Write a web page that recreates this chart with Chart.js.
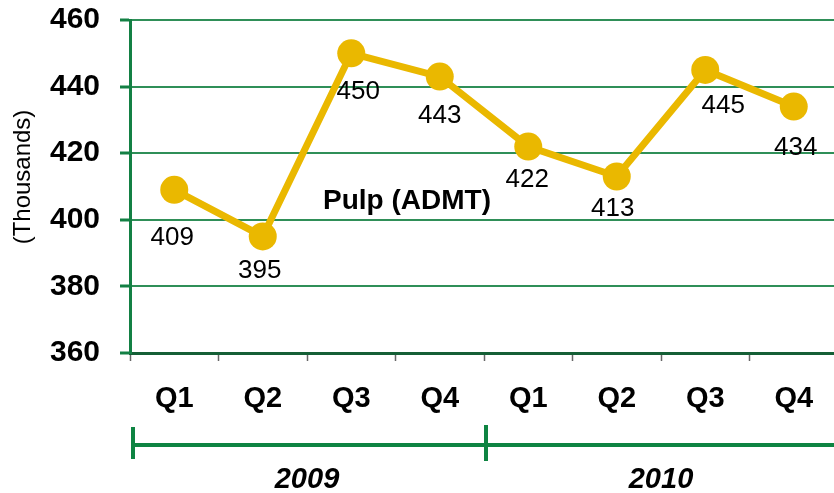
<!DOCTYPE html>
<html>
<head>
<meta charset="utf-8">
<script src="https://cdn.jsdelivr.net/npm/chart.js@4/dist/chart.umd.min.js"></script>
<style>
html,body{margin:0;padding:0;background:#fff;overflow:hidden;}
#clip{width:834px;height:493px;position:relative;overflow:hidden;}
#wrap{width:900px;height:493px;position:absolute;left:0;top:0;}
#c{position:absolute;left:0;top:0;width:852px;height:493px;}
</style>
</head>
<body>
<div id="clip"><div id="wrap"><canvas id="c" width="852" height="493"></canvas></div></div>
<script>
const quarters = ['Q1','Q2','Q3','Q4','Q1','Q2','Q3','Q4'];
const pulpValues = [409,395,450,443,422,413,445,434];
const years = ['2009','2010'];
const seriesName = 'Pulp (ADMT)';
const yAxisTitle = '(Thousands)';
const yMin = 360, yMax = 460, yStep = 20;

const FONT = "'Liberation Sans', Arial, sans-serif";
const GOLD = '#EAB800';
const GREEN = '#138044';
const VISIBLE_WIDTH = 834;

const extras = {
  id: 'extras',
  afterDatasetsDraw(chart, args, opts) {
    const ctx = chart.ctx;
    const meta = chart.getDatasetMeta(0);
    const xs = chart.scales.x;
    const ca = chart.chartArea;
    ctx.save();
    // data labels
    ctx.fillStyle = '#000';
    ctx.font = '26px ' + FONT;
    ctx.textAlign = 'center';
    ctx.textBaseline = 'middle';
    meta.data.forEach((pt, i) => {
      const off = opts.labelOffsets[i] || [0, 37];
      ctx.fillText(String(pulpValues[i]), pt.x + off[0], pt.y + off[1]);
    });
    // series name
    ctx.font = 'bold 28px ' + FONT;
    ctx.fillText(seriesName, ca.left + 277, ca.top + 181);
    // y axis title
    ctx.save();
    ctx.translate(23, 177);
    ctx.rotate(-Math.PI / 2);
    ctx.font = '24px ' + FONT;
    ctx.fillText(yAxisTitle, 0, 0);
    ctx.restore();
    // year bracket
    const perYear = quarters.length / years.length;
    const step = xs.getPixelForValue(1) - xs.getPixelForValue(0);
    const bounds = [];
    for (let g = 0; g <= years.length; g++) {
      bounds.push(xs.getPixelForValue(g * perYear) - step / 2);
    }
    const by = 445;
    ctx.strokeStyle = '#0E8442';
    ctx.lineWidth = 4;
    ctx.beginPath();
    ctx.moveTo(bounds[0] + 3, by);
    ctx.lineTo(VISIBLE_WIDTH, by);
    ctx.stroke();
    ctx.beginPath();
    ctx.moveTo(bounds[0] + 3, 427);
    ctx.lineTo(bounds[0] + 3, 459);
    for (let g = 1; g < years.length; g++) {
      ctx.moveTo(bounds[g] + 2, 425);
      ctx.lineTo(bounds[g] + 2, 461);
    }
    ctx.stroke();
    // year labels
    ctx.fillStyle = '#000';
    ctx.font = 'italic bold 29px ' + FONT;
    years.forEach((y, g) => {
      ctx.fillText(y, (bounds[g] + bounds[g + 1]) / 2, 480);
    });
    ctx.restore();
  }
};

new Chart(document.getElementById('c'), {
  type: 'line',
  data: {
    labels: quarters,
    datasets: [{
      label: seriesName,
      data: pulpValues,
      borderColor: GOLD,
      backgroundColor: GOLD,
      borderWidth: 7,
      pointRadius: 14,
      pointHoverRadius: 14,
      pointBackgroundColor: GOLD,
      pointBorderWidth: 0,
      tension: 0,
      clip: false
    }]
  },
  options: {
    responsive: false,
    animation: false,
    events: [],
    layout: { padding: { top: 20, right: 0, bottom: 0, left: 0 } },
    plugins: {
      legend: { display: false },
      tooltip: { enabled: false },
      extras: {
        labelOffsets: [[-2,48],[-3,34],[7,39],[0,39],[-1,33],[-4,32],[18,36],[2,41]]
      }
    },
    scales: {
      x: {
        offset: true,
        grid: {
          offset: true,
          drawOnChartArea: false,
          drawTicks: true,
          tickLength: 8,
          tickColor: '#666',
          tickWidth: 1.5
        },
        border: { color: '#155f36', width: 3 },
        ticks: {
          color: '#000',
          font: { family: FONT, size: 29, weight: 'bold' },
          padding: 21,
          maxRotation: 0,
          autoSkip: false
        },
        afterFit(scale) {
          scale.height = 140;
          scale.paddingLeft = 0; scale.paddingRight = 0;
          scale.paddingTop = 0; scale.paddingBottom = 0;
        }
      },
      y: {
        min: yMin,
        max: yMax,
        grid: {
          color: '#2f8f58',
          lineWidth: 2,
          tickLength: 10,
          tickColor: GREEN,
          tickWidth: 3
        },
        border: { color: GREEN, width: 3 },
        ticks: {
          stepSize: yStep,
          color: '#000',
          font: { family: FONT, size: 30, weight: 'bold' },
          padding: 20
        },
        afterFit(scale) {
          scale.width = 130;
          scale.paddingLeft = 0; scale.paddingRight = 0;
          scale.paddingTop = 0; scale.paddingBottom = 0;
        }
      }
    }
  },
  plugins: [extras]
});
</script>
</body>
</html>
